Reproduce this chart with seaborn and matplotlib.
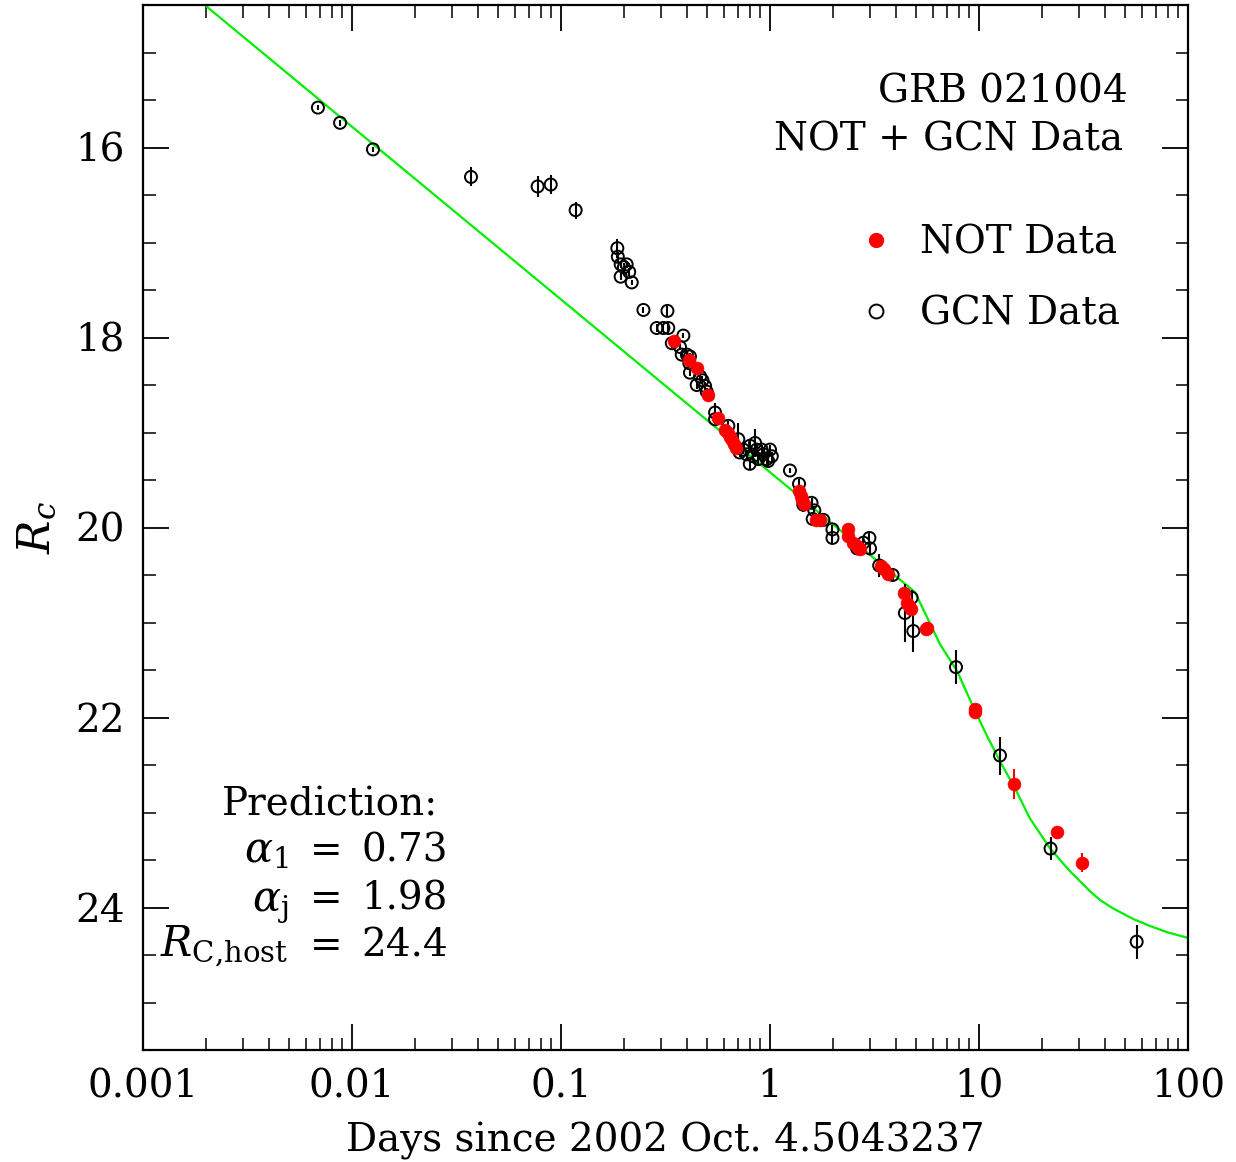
import numpy as np
import pandas as pd
import matplotlib
matplotlib.use("Agg")
import matplotlib.pyplot as plt
from matplotlib.lines import Line2D
import matplotlib.ticker as mticker
import seaborn as sns

# ---------------- data ----------------
gcn_t = [0.00687, 0.00877, 0.0126, 0.0371, 0.0773, 0.0893, 0.1175,
         0.186, 0.187, 0.193, 0.200, 0.206, 0.212, 0.193, 0.218,
         0.248, 0.323, 0.287, 0.309, 0.326, 0.339, 0.371, 0.385, 0.378,
         0.400, 0.414, 0.411, 0.414, 0.463, 0.475, 0.446, 0.489, 0.498,
         0.546, 0.546, 0.632, 0.705, 0.716, 0.745, 0.774, 0.802, 0.848,
         0.864, 0.832, 0.880, 0.912, 0.929, 0.964, 0.980, 1.00, 1.02, 0.80,
         1.246, 1.377, 1.443, 1.58, 1.63, 1.60, 1.80, 1.99, 1.99,
         2.61, 2.80, 2.99, 3.01, 3.33, 3.86, 4.76, 4.42, 4.85,
         7.76, 12.6, 22.0, 56.8]
gcn_mag = [15.58, 15.74, 16.02, 16.31, 16.41, 16.39, 16.66,
           17.06, 17.15, 17.23, 17.26, 17.23, 17.31, 17.36, 17.42,
           17.71, 17.72, 17.90, 17.90, 17.90, 18.06, 18.10, 17.98, 18.18,
           18.18, 18.20, 18.27, 18.37, 18.41, 18.45, 18.50, 18.51, 18.57,
           18.79, 18.86, 18.93, 19.07, 19.21, 19.18, 19.23, 19.14, 19.11,
           19.18, 19.25, 19.28, 19.18, 19.23, 19.28, 19.30, 19.18, 19.25, 19.33,
           19.40, 19.54, 19.76, 19.74, 19.82, 19.91, 19.92, 20.02, 20.11,
           20.22, 20.16, 20.11, 20.22, 20.40, 20.50, 20.74, 20.90, 21.09,
           21.47, 22.40, 23.38, 24.36]
gcn_err = [0.03, 0.03, 0.03, 0.10, 0.11, 0.10, 0.09,
           0.10, 0.05, 0.04, 0.04, 0.04, 0.04, 0.04, 0.03,
           0.03, 0.06, 0.04, 0.04, 0.07, 0.05, 0.03, 0.03, 0.04,
           0.04, 0.04, 0.04, 0.04, 0.04, 0.04, 0.04, 0.04, 0.04,
           0.10, 0.05, 0.05, 0.17, 0.05, 0.05, 0.05, 0.05, 0.15,
           0.05, 0.05, 0.05, 0.05, 0.05, 0.05, 0.05, 0.05, 0.05, 0.05,
           0.03, 0.05, 0.08, 0.05, 0.05, 0.06, 0.05, 0.05, 0.05,
           0.05, 0.05, 0.06, 0.06, 0.12, 0.05, 0.08, 0.30, 0.22,
           0.18, 0.20, 0.12, 0.18]

not_t = [0.348, 0.411, 0.446, 0.504, 0.566, 0.61, 0.63, 0.645, 0.66, 0.675, 0.69,
         1.37, 1.40, 1.43, 1.46, 1.66, 1.73, 2.36, 2.37, 2.50, 2.60, 2.70,
         3.39, 3.51, 3.68, 4.37, 4.50, 4.64, 4.71, 5.60, 5.65,
         9.57, 9.60, 14.7, 23.7, 31.0]
not_mag = [18.04, 18.24, 18.32, 18.60, 18.85, 18.97, 19.00, 19.05, 19.08, 19.12, 19.16,
           19.62, 19.67, 19.71, 19.75, 19.92, 19.92, 20.02, 20.09, 20.16, 20.19, 20.23,
           20.41, 20.44, 20.49, 20.69, 20.79, 20.83, 20.86, 21.07, 21.06,
           21.91, 21.94, 22.70, 23.21, 23.53]
not_err = [0.03, 0.03, 0.03, 0.03, 0.03, 0.03, 0.03, 0.03, 0.03, 0.03, 0.03,
           0.05, 0.03, 0.03, 0.03, 0.03, 0.03, 0.05, 0.03, 0.03, 0.03, 0.03,
           0.03, 0.03, 0.03, 0.03, 0.03, 0.03, 0.03, 0.03, 0.03,
           0.03, 0.03, 0.16, 0.07, 0.10]

# prediction curve
model_t = [0.002, 4.94, 6.51, 7.85, 9.57, 10.9, 12.6, 14.9, 17.5, 21.9, 27.3,
           34.0, 37.9, 43.8, 54.6, 65.0, 79.4, 100.0]
model_mag = [14.51, 20.68, 21.23, 21.51, 21.93, 22.19, 22.46, 22.75, 23.06, 23.38,
             23.62, 23.83, 23.92, 24.01, 24.12, 24.19, 24.26, 24.32]

x_ticks = [0.001, 0.01, 0.1, 1, 10, 100]
x_ticklabels = ["0.001", "0.01", "0.1", "1", "10", "100"]
y_ticks = [16, 18, 20, 22, 24]

gcn = pd.DataFrame({"t": gcn_t, "mag": gcn_mag, "err": gcn_err})
nott = pd.DataFrame({"t": not_t, "mag": not_mag, "err": not_err})
model = pd.DataFrame({"t": model_t, "mag": model_mag})

# ---------------- style ----------------
sns.set_theme(style="ticks")
FONT = ["DejaVu Serif"]
plt.rcParams["font.family"] = FONT
plt.rcParams["mathtext.fontset"] = "dejavuserif"
for k in ["text.color", "axes.labelcolor", "xtick.color", "ytick.color",
          "axes.edgecolor"]:
    plt.rcParams[k] = "black"
FS = 28

fig = plt.figure(figsize=(12.36, 11.62), dpi=100)
ax = fig.add_axes([143 / 1236, 1 - 1050 / 1162, 1045 / 1236, 1045 / 1162])

sns.lineplot(data=model, x="t", y="mag", ax=ax, color="#00ee00", lw=1.6,
             estimator=None, sort=False, zorder=1, legend=False)

ax.errorbar(gcn["t"], gcn["mag"], yerr=gcn["err"], fmt="none",
            ecolor="black", elinewidth=1.5, capsize=0, zorder=2)
ax.errorbar(nott["t"], nott["mag"], yerr=nott["err"], fmt="none",
            ecolor="red", elinewidth=1.5, capsize=0, zorder=3)
sns.scatterplot(data=gcn, x="t", y="mag", ax=ax, marker="o", s=75,
                facecolor="none", edgecolor="black", linewidth=1.4, zorder=4)
sns.scatterplot(data=nott, x="t", y="mag", ax=ax, marker="o", s=85,
                color="red", edgecolor="red", linewidth=0.5, zorder=5)

ax.set_xscale("log")
ax.set_xlim(0.001, 100)
ax.set_ylim(25.5, 14.5)

ax.set_xticks(x_ticks)
ax.set_xticklabels(x_ticklabels)
ax.xaxis.set_minor_locator(mticker.LogLocator(base=10, subs=np.arange(2, 10)))
ax.xaxis.set_minor_formatter(mticker.NullFormatter())
ax.set_yticks(y_ticks)
ax.yaxis.set_minor_locator(mticker.MultipleLocator(0.5))

ax.tick_params(which="major", direction="in", length=19, width=1.3,
               top=True, right=True, labelsize=FS, pad=13, color="black",
               labelcolor="black")
ax.tick_params(which="minor", direction="in", length=9, width=1.1,
               top=True, right=True, color="black")
for lab in ax.get_xticklabels() + ax.get_yticklabels():
    lab.set_family(FONT)
for sp in ax.spines.values():
    sp.set_linewidth(1.6)
    sp.set_color("black")

ax.set_xlabel("Days since 2002 Oct. 4.5043237", fontsize=FS, labelpad=12)
ax.set_ylabel(r"$R_c$", fontsize=FS + 4, labelpad=12)

# annotations
ax.text(0.9426, 0.907, "GRB 021004", transform=ax.transAxes, ha="right",
        va="baseline", fontsize=FS)
ax.text(0.9378, 0.861, "NOT + GCN Data", transform=ax.transAxes, ha="right",
        va="baseline", fontsize=FS)

ax.text(0.2823, 0.224, "Prediction:", transform=ax.transAxes, ha="right",
        va="baseline", fontsize=FS)
rows = [(r"$\alpha_{\mathrm{1}}$", "0.73", 0.180),
        (r"$\alpha_{\mathrm{j}}$", "1.98", 0.134),
        (r"$R_{\mathrm{C{,}host}}$", "24.4", 0.089)]
for lab, val, yy in rows:
    ax.text(0.1388, yy, lab, transform=ax.transAxes, ha="right",
            va="baseline", fontsize=FS + 2)
    ax.text(0.1751, yy, "=", transform=ax.transAxes, ha="center",
            va="baseline", fontsize=FS)
    ax.text(0.2919, yy, val, transform=ax.transAxes, ha="right",
            va="baseline", fontsize=FS)

handles = [Line2D([], [], marker="o", ls="none", color="red", markersize=10),
           Line2D([], [], marker="o", ls="none", markerfacecolor="none",
                  markeredgecolor="black", markeredgewidth=1.4, markersize=10)]
ax.legend(handles, ["NOT Data", "GCN Data"], loc="upper left",
          bbox_to_anchor=(0.683, 0.790), frameon=False, fontsize=FS,
          handlelength=1.0, handletextpad=0.63, labelspacing=0.88,
          borderpad=0, borderaxespad=0, labelcolor="black")

fig.savefig("out.png", dpi=100)
